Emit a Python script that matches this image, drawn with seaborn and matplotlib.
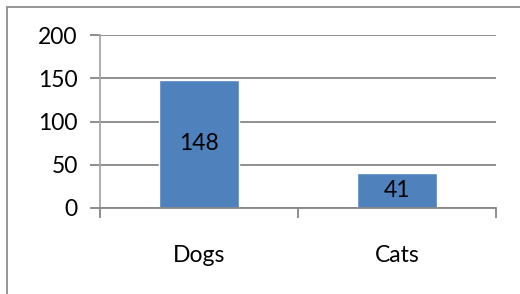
import matplotlib
matplotlib.use("Agg")
import matplotlib.pyplot as plt
import seaborn as sns
from matplotlib.patches import Rectangle

# Chart data
categories = ["Dogs", "Cats"]
counts = [148, 41]
y_ticks = [0, 50, 100, 150, 200]

sns.set_style("white")
plt.rcParams["font.family"] = ["Lato", "DejaVu Sans"]
plt.rcParams["text.color"] = "black"
plt.rcParams["xtick.labelcolor"] = "black"
plt.rcParams["ytick.labelcolor"] = "black"

fig = plt.figure(figsize=(5.2, 2.94), dpi=100)
ax = fig.add_axes([100 / 520, 86 / 294, 396 / 520, 173 / 294])

sns.barplot(x=categories, y=counts, color="#4F81BD", saturation=1,
            width=0.4, ax=ax)

ax.set_ylim(0, 200)
ax.set_xlim(-0.5, 1.5)
ax.set_yticks(y_ticks)
ax.yaxis.grid(True, color="#868686", linewidth=1.3)
ax.set_axisbelow(True)

# category boundary ticks like Excel
ax.set_xticks([-0.5, 0.5, 1.5], minor=True)
ax.tick_params(axis="x", which="minor", length=7, width=1.3, color="#868686", direction="out", bottom=True)
ax.tick_params(axis="x", which="major", length=0, pad=27, labelsize=16.5)
ax.tick_params(axis="y", length=7, width=1.3, color="#868686", direction="out", left=True, pad=9, labelsize=16.5)

for side in ["top", "right"]:
    ax.spines[side].set_visible(False)
ax.spines["left"].set_color("#a6a6a6")
ax.spines["left"].set_linewidth(1.3)
ax.spines["bottom"].set_color("#868686")
ax.spines["bottom"].set_linewidth(1.3)
ax.set_xlabel("")
ax.set_ylabel("")

ax.bar_label(ax.containers[0], label_type="center", fontsize=16.5)

# chart frame (left and top edges show in the crop)
fig.patches.append(Rectangle((7 / 520, -0.1), 1.2, (294 - 7) / 294 + 0.1,
                             transform=fig.transFigure, fill=False,
                             edgecolor="#8c8c8c", linewidth=1.3))

fig.savefig("out.png", dpi=100)
